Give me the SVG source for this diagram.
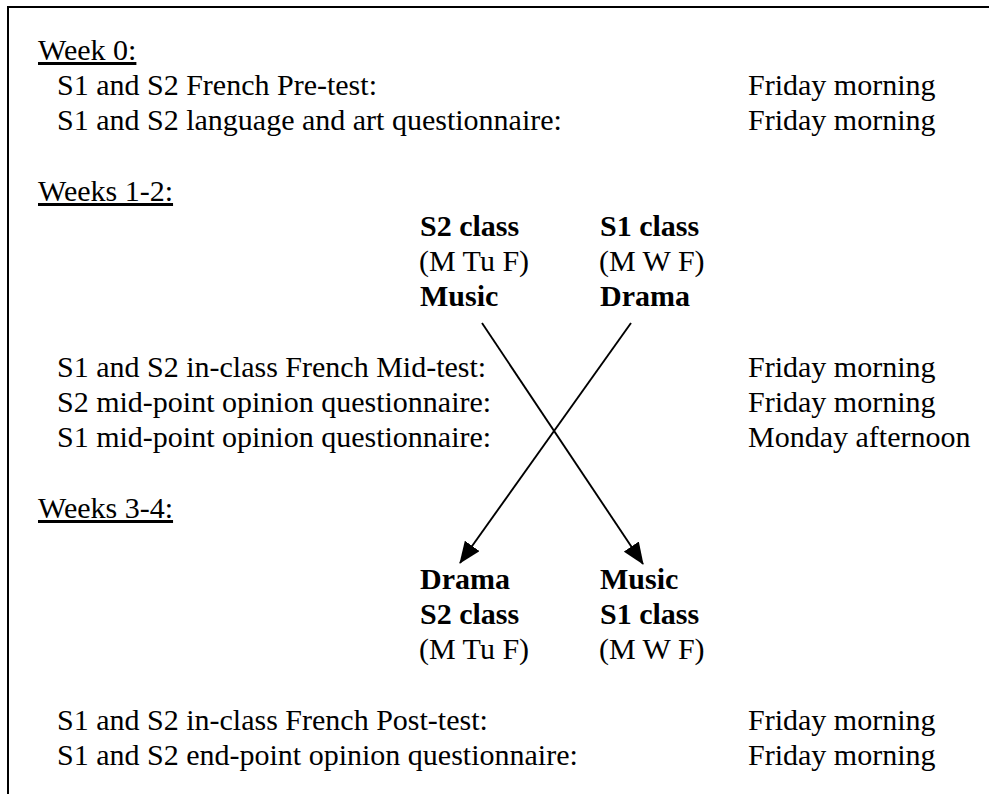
<svg xmlns="http://www.w3.org/2000/svg" width="989" height="794" viewBox="0 0 989 794">
<style>
text{font-family:"Liberation Serif","Times New Roman",serif;font-size:30px;fill:#000}
.b{font-weight:bold}
.u{text-decoration:underline}
.edge{stroke:#000;stroke-width:1.9;fill:none}
</style>
<defs>
<marker id="ah" viewBox="0 0 22 18" refX="21" refY="9" markerWidth="22" markerHeight="18" markerUnits="userSpaceOnUse" orient="auto">
<path d="M0,0 L22,9 L0,18 Z" fill="#000"/>
</marker>
</defs>
<rect width="989" height="794" fill="#fff"/>
<path d="M8,800 V7 H995" fill="none" stroke="#000" stroke-width="2"/>
<g id="week0">
<text x="38" y="60" class="u">Week 0:</text>
<text x="57" y="95">S1 and S2 French Pre-test:</text>
<text x="748" y="95">Friday morning</text>
<text x="57" y="130">S1 and S2 language and art questionnaire:</text>
<text x="748" y="130">Friday morning</text>
</g>
<g id="weeks12">
<text x="38" y="201" class="u">Weeks 1-2:</text>
</g>
<g id="s2-music">
<text x="420" y="236" class="b">S2 class</text>
<text x="419" y="271">(M Tu F)</text>
<text x="420" y="306" class="b">Music</text>
</g>
<g id="s1-drama">
<text x="600" y="236" class="b">S1 class</text>
<text x="599" y="271">(M W F)</text>
<text x="600" y="306" class="b">Drama</text>
</g>
<g id="midtests">
<text x="57" y="377">S1 and S2 in-class French Mid-test:</text>
<text x="748" y="377">Friday morning</text>
<text x="57" y="412">S2 mid-point opinion questionnaire:</text>
<text x="748" y="412">Friday morning</text>
<text x="57" y="447">S1 mid-point opinion questionnaire:</text>
<text x="748" y="447">Monday afternoon</text>
</g>
<g id="weeks34">
<text x="38" y="518" class="u">Weeks 3-4:</text>
</g>
<g id="s2-drama">
<text x="420" y="589" class="b">Drama</text>
<text x="420" y="624" class="b">S2 class</text>
<text x="419" y="659">(M Tu F)</text>
</g>
<g id="s1-music">
<text x="600" y="589" class="b">Music</text>
<text x="600" y="624" class="b">S1 class</text>
<text x="599" y="659">(M W F)</text>
</g>
<g id="posttests">
<text x="57" y="730">S1 and S2 in-class French Post-test:</text>
<text x="748" y="730">Friday morning</text>
<text x="57" y="765">S1 and S2 end-point opinion questionnaire:</text>
<text x="748" y="765">Friday morning</text>
</g>
<g id="connectors">
<line class="edge" x1="482" y1="323" x2="643" y2="564" marker-end="url(#ah)"/>
<line class="edge" x1="631" y1="323" x2="460" y2="563" marker-end="url(#ah)"/>
</g>
</svg>
